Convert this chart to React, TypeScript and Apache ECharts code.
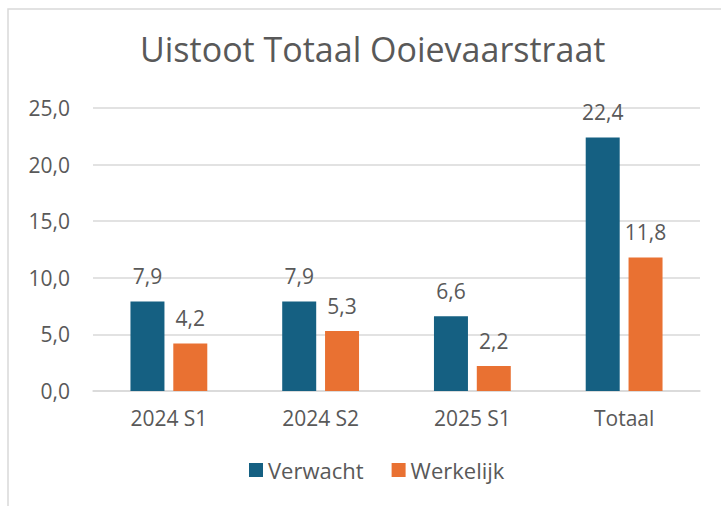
import React, { useEffect, useRef } from "react";
import * as echarts from "echarts";

const categories = ["2024 S1", "2024 S2", "2025 S1", "Totaal"];
const verwacht = [7.9, 7.9, 6.6, 22.4];
const werkelijk = [4.2, 5.3, 2.2, 11.8];
const titleText = "Uistoot Totaal Ooievaarstraat";

const fmt = (v: number) => v.toFixed(1).replace(".", ",");
const FONT = "Open Sans";
const TXT = "#595959";

export default function App() {
  const ref = useRef<HTMLDivElement>(null);
  useEffect(() => {
    document.body.style.margin = "0";
    const chart = echarts.init(ref.current!, null, { renderer: "svg" });
    chart.setOption({
      animation: false,
      backgroundColor: "#ffffff",
      textStyle: { fontFamily: FONT, color: TXT },
      title: {
        text: titleText,
        left: 135,
        top: 27,
        textStyle: { fontFamily: FONT, fontSize: 34, fontWeight: "normal", color: TXT },
      },
      graphic: [
        {
          type: "rect",
          shape: { x: 8, y: 9, width: 760, height: 560 },
          style: { fill: "none", stroke: "#d9d9d9", lineWidth: 1.5 },
          silent: true,
          z: -1,
        },
      ],
      legend: {
        bottom: 20,
        left: 244,
        itemWidth: 14,
        itemHeight: 14,
        itemGap: 28,
        icon: "rect",
        textStyle: { fontFamily: FONT, fontSize: 22, color: TXT },
        data: ["Verwacht", "Werkelijk"],
      },
      grid: { left: 93, right: 21, top: 108, bottom: 115, containLabel: false },
      xAxis: {
        type: "category",
        data: categories,
        axisLine: { lineStyle: { color: "#d9d9d9", width: 1.5 } },
        axisTick: { show: false },
        axisLabel: { fontFamily: FONT, fontSize: 21, color: TXT, margin: 16 },
      },
      yAxis: {
        type: "value",
        min: 0,
        max: 25,
        interval: 5,
        axisLine: { show: false },
        axisTick: { show: false },
        splitLine: { lineStyle: { color: "#d9d9d9", width: 1.5 } },
        axisLabel: {
          fontFamily: FONT,
          fontSize: 21,
          color: TXT,
          margin: 23,
          formatter: (v: number) => fmt(v),
        },
      },
      series: [
        {
          name: "Verwacht",
          type: "bar",
          data: verwacht,
          barWidth: "22.4%",
          barGap: "26%",
          itemStyle: { color: "#156082" },
          label: {
            show: true,
            position: "top",
            distance: 15,
            fontFamily: FONT,
            fontSize: 21,
            color: TXT,
            formatter: (p: any) => fmt(p.value),
          },
        },
        {
          name: "Werkelijk",
          type: "bar",
          data: werkelijk,
          barWidth: "22.4%",
          barGap: "26%",
          itemStyle: { color: "#E97132" },
          label: {
            show: true,
            position: "top",
            distance: 15,
            fontFamily: FONT,
            fontSize: 21,
            color: TXT,
            formatter: (p: any) => fmt(p.value),
          },
        },
      ],
    });
    return () => chart.dispose();
  }, []);
  return <div ref={ref} style={{ width: 721, height: 506, position: "absolute", left: 0, top: 0 }} />;
}
